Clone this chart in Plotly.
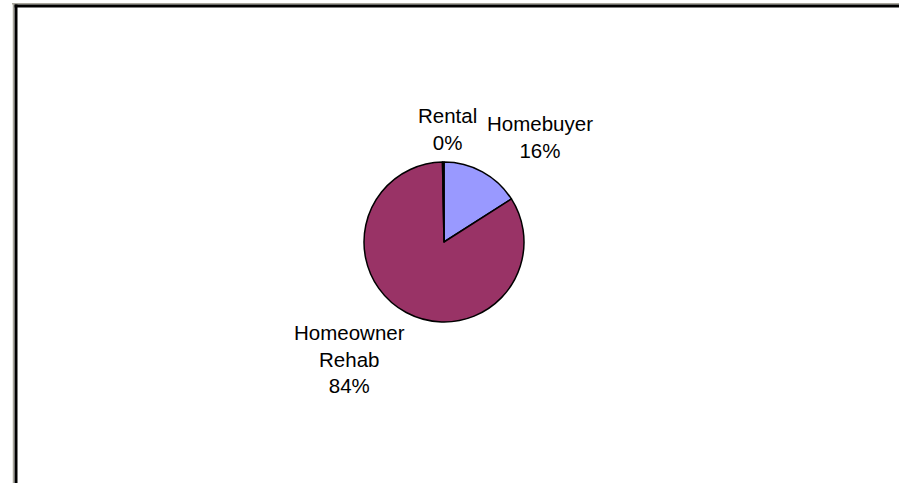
import plotly.graph_objects as go

# Data
categories = ["Homebuyer", "Homeowner Rehab", "Rental"]
values = [16.0, 84.0, 0.3]
colors = ["#9999FF", "#993366", "#FFFFCC"]
label_text = ["Homebuyer", "Homeowner<br>Rehab", "Rental"]

W, H = 899, 483
total = sum(values)
pcts = [round(v / total * 100) for v in values]

# label anchor positions in pixels (layout only)
label_pos = {"Homebuyer": (540, 137), "Homeowner Rehab": (349, 359), "Rental": (447, 129)}

cx, cy, r = 444, 242, 80

fig = go.Figure(go.Pie(
    labels=categories,
    values=values,
    sort=False,
    direction="clockwise",
    rotation=0,
    marker=dict(colors=colors, line=dict(color="black", width=1.5)),
    textinfo="none",
    hoverinfo="label+percent",
    showlegend=False,
    domain=dict(x=[(cx - r) / W, (cx + r) / W], y=[1 - (cy + r) / H, 1 - (cy - r) / H]),
))

annotations = []
for cat, lt, p in zip(categories, label_text, pcts):
    px, py = label_pos[cat]
    annotations.append(dict(
        x=px / W, y=1 - py / H, xref="paper", yref="paper",
        text=f"{lt}<br>{p}%", showarrow=False,
        xanchor="center", yanchor="middle", align="center",
        font=dict(family="Liberation Sans, Arial, sans-serif", size=20.5, color="black"),
    ))

shapes = [
    # top border: gray then black
    dict(type="line", xref="paper", yref="paper", x0=12 / W, x1=1, y0=1 - 3.8 / H, y1=1 - 3.8 / H,
         line=dict(color="#A8A69C", width=1.5)),
    dict(type="line", xref="paper", yref="paper", x0=14.5 / W, x1=1, y0=1 - 6 / H, y1=1 - 6 / H,
         line=dict(color="black", width=3)),
    # left border: gray then black
    dict(type="line", xref="paper", yref="paper", x0=13.5 / W, x1=13.5 / W, y0=0, y1=1 - 3 / H,
         line=dict(color="#A8A69C", width=1.5)),
    dict(type="line", xref="paper", yref="paper", x0=16 / W, x1=16 / W, y0=0, y1=1 - 4.5 / H,
         line=dict(color="black", width=3)),
]

fig.update_layout(
    width=W, height=H,
    margin=dict(l=0, r=0, t=0, b=0),
    paper_bgcolor="white", plot_bgcolor="white",
    annotations=annotations,
    shapes=shapes,
)

fig.write_html(
    "out.html",
    config={"displayModeBar": False},
    post_script="document.body.style.margin='0';document.body.style.overflow='hidden';",
)
